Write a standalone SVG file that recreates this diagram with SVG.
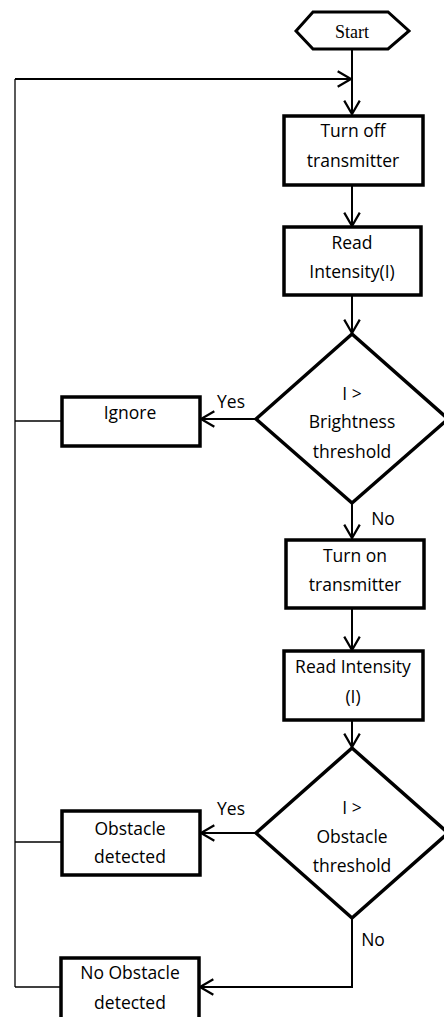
<svg xmlns="http://www.w3.org/2000/svg" width="444" height="1017" viewBox="0 0 444 1017">
<style>
.box{fill:#fff;stroke:#000;stroke-width:3.5}
.dia{fill:#fff;stroke:#000;stroke-width:3.5;stroke-linejoin:miter}
.t{font-family:"Open Sans","Noto Sans",sans-serif;font-size:17.5px;fill:#000;text-anchor:middle}
.lbl{font-family:"Open Sans","Noto Sans",sans-serif;font-size:17.5px;fill:#000;text-anchor:middle}
.c{fill:none;stroke:#000;stroke-width:2}
.thin{fill:none;stroke:#000;stroke-width:1.3}
</style>
<defs>
<marker id="arr" markerUnits="userSpaceOnUse" markerWidth="20" markerHeight="20" viewBox="-14 -9 16 18" refX="0" refY="0" orient="auto">
<path d="M-12,-7 L0,0 L-12,7" fill="none" stroke="#000" stroke-width="2"/>
</marker>
</defs>
<g id="connectors">
<path class="c" d="M352,49 V114" marker-end="url(#arr)"/>
<path class="thin" d="M15,987 V79"/>
<path class="c" d="M15,79 H351" marker-end="url(#arr)"/>
<path class="c" d="M352,185 V226" marker-end="url(#arr)"/>
<path class="c" d="M352,295 V333" marker-end="url(#arr)"/>
<path class="c" d="M256,419 H201" marker-end="url(#arr)"/>
<path class="thin" d="M61,421 H15"/>
<path class="c" d="M352,503 V538" marker-end="url(#arr)"/>
<path class="c" d="M352,608 V650" marker-end="url(#arr)"/>
<path class="c" d="M352,720 V747" marker-end="url(#arr)"/>
<path class="c" d="M256,833 H201" marker-end="url(#arr)"/>
<path class="thin" d="M61,842 H15"/>
<path class="c" d="M352,918 V987 H200" marker-end="url(#arr)"/>
<path class="thin" d="M60,987 H15"/>
</g>
<g id="start">
<polygon points="296,31 313,12 388,12 409,31 388,49 313,49" fill="#fff" stroke="#000" stroke-width="3"/>
<text x="352" y="38" font-family="Liberation Serif,serif" font-size="18" text-anchor="middle">Start</text>
</g>
<g id="turn-off">
<rect class="box" x="284" y="116" width="139" height="69"/>
<text class="t" x="353" y="137">Turn off</text>
<text class="t" x="353" y="167">transmitter</text>
</g>
<g id="read1">
<rect class="box" x="284" y="227" width="137" height="68"/>
<text class="t" x="352" y="249">Read</text>
<text class="t" x="352" y="278">Intensity(I)</text>
</g>
<g id="dec1">
<polygon class="dia" points="352,334 448,419 352,503 256,419"/>
<text class="t" x="352" y="400">I &gt;</text>
<text class="t" x="352" y="428">Brightness</text>
<text class="t" x="352" y="458">threshold</text>
</g>
<g id="ignore">
<rect class="box" x="62" y="397" width="138" height="49"/>
<text class="t" x="130" y="419">Ignore</text>
</g>
<g id="turn-on">
<rect class="box" x="286" y="540" width="138" height="68"/>
<text class="t" x="355" y="562">Turn on</text>
<text class="t" x="355" y="591">transmitter</text>
</g>
<g id="read2">
<rect class="box" x="284" y="651" width="139" height="69"/>
<text class="t" x="353" y="673">Read Intensity</text>
<text class="t" x="353" y="703">(I)</text>
</g>
<g id="dec2">
<polygon class="dia" points="352,748 448,833 352,918 256,833"/>
<text class="t" x="352" y="814">I &gt;</text>
<text class="t" x="352" y="843">Obstacle</text>
<text class="t" x="352" y="872">threshold</text>
</g>
<g id="obstacle">
<rect class="box" x="62" y="811" width="138" height="64"/>
<text class="t" x="130" y="835">Obstacle</text>
<text class="t" x="130" y="863">detected</text>
</g>
<g id="no-obstacle">
<rect class="box" x="61" y="958" width="138" height="62"/>
<text class="t" x="130" y="979">No Obstacle</text>
<text class="t" x="130" y="1009">detected</text>
</g>
<g id="labels">
<text class="lbl" x="231" y="408">Yes</text>
<text class="lbl" x="383" y="525">No</text>
<text class="lbl" x="231" y="815">Yes</text>
<text class="lbl" x="373" y="946">No</text>
</g>
</svg>
